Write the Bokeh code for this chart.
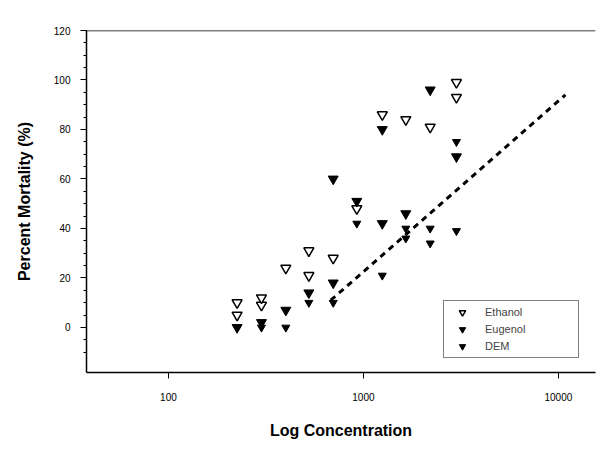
from bokeh.plotting import figure
from bokeh.models import Span, Legend, LegendItem, FixedTicker, PrintfTickFormatter
from bokeh.embed import file_html
from bokeh.resources import INLINE

# Data
ethanol_conc = [225, 225, 300, 300, 400, 525, 525, 700, 925, 1250, 1650, 2200, 3000, 3000]
ethanol_mort = [5, 10, 9, 12, 24, 21, 31, 28, 48, 86, 84, 81, 99, 93]
eugenol_conc = [225, 300, 400, 525, 700, 700, 925, 1250, 1250, 1650, 2200, 3000]
eugenol_mort = [0, 2, 7, 14, 18, 60, 51, 80, 42, 46, 96, 69]
dem_conc = [225, 300, 400, 525, 700, 925, 1250, 1650, 1650, 2200, 2200, 3000, 3000]
dem_mort = [0, 0, 0, 10, 10, 42, 21, 36, 40, 34, 40, 39, 75]
fit_conc = [680, 10870]
fit_mort = [11, 94]
y_ticks = [0, 20, 40, 60, 80, 100, 120]
x_ticks = [100, 1000, 10000]

p = figure(width=598, height=449, x_axis_type="log",
           x_range=(38, 15500), y_range=(-18.2, 120),
           output_backend="svg", toolbar_location=None,
           min_border_left=86, min_border_right=3, min_border_top=30, min_border_bottom=77)
p.outline_line_color = None
p.xgrid.visible = False
p.ygrid.visible = False
p.background_fill_color = "white"
p.border_fill_color = "white"

p.add_layout(Span(location=120, dimension="width", line_color="black", line_width=1.5))

p.line(fit_conc, fit_mort, line_color="black", line_width=3, line_dash="6 5")

r1 = p.scatter(ethanol_conc, ethanol_mort, marker="inverted_triangle", size=10,
               fill_color="white", line_color="black", line_width=1.5)
r2 = p.scatter(eugenol_conc, eugenol_mort, marker="inverted_triangle", size=10,
               fill_color="black", line_color="black")
r3 = p.scatter(dem_conc, dem_mort, marker="inverted_triangle", size=8,
               fill_color="black", line_color="black")

legend = Legend(items=[LegendItem(label="Ethanol", renderers=[r1]),
                       LegendItem(label="Eugenol", renderers=[r2]),
                       LegendItem(label="DEM", renderers=[r3])],
                location=(357, 14), label_text_font="Liberation Sans",
                label_text_font_size="11px", border_line_color="black",
                border_line_width=1.5, padding=3, spacing=1,
                label_height=16, glyph_height=16, label_width=90,
                glyph_width=30, label_standoff=8)
p.add_layout(legend)

p.xaxis.ticker = FixedTicker(ticks=x_ticks)
p.xaxis.formatter = PrintfTickFormatter(format="%d")
p.yaxis.ticker = FixedTicker(ticks=y_ticks, minor_ticks=list(range(-10, 121, 5)))
for ax in (p.xaxis, p.yaxis):
    ax.axis_line_color = "black"
    ax.axis_line_width = 1.5
    ax.major_tick_line_color = "black"
    ax.major_tick_in = 0
    ax.major_tick_out = 6
    ax.minor_tick_in = 0
    ax.minor_tick_out = 3
    ax.major_label_text_font = "Liberation Sans"
    ax.major_label_text_font_size = "10px"
    ax.major_label_text_color = "black"
    ax.axis_label_text_font = "Liberation Sans"
    ax.axis_label_text_font_style = "bold"
    ax.axis_label_text_font_size = "16px"
    ax.axis_label_text_color = "black"

p.xaxis.axis_label = "Log Concentration"
p.yaxis.axis_label = "Percent Mortality (%)"
p.xaxis.major_label_standoff = 14
p.xaxis.axis_label_standoff = 18
p.yaxis.major_label_standoff = 10
p.yaxis.axis_label_standoff = 18
p.xaxis.minor_tick_line_color = None

open("out.html", "w").write(file_html(p, INLINE))
